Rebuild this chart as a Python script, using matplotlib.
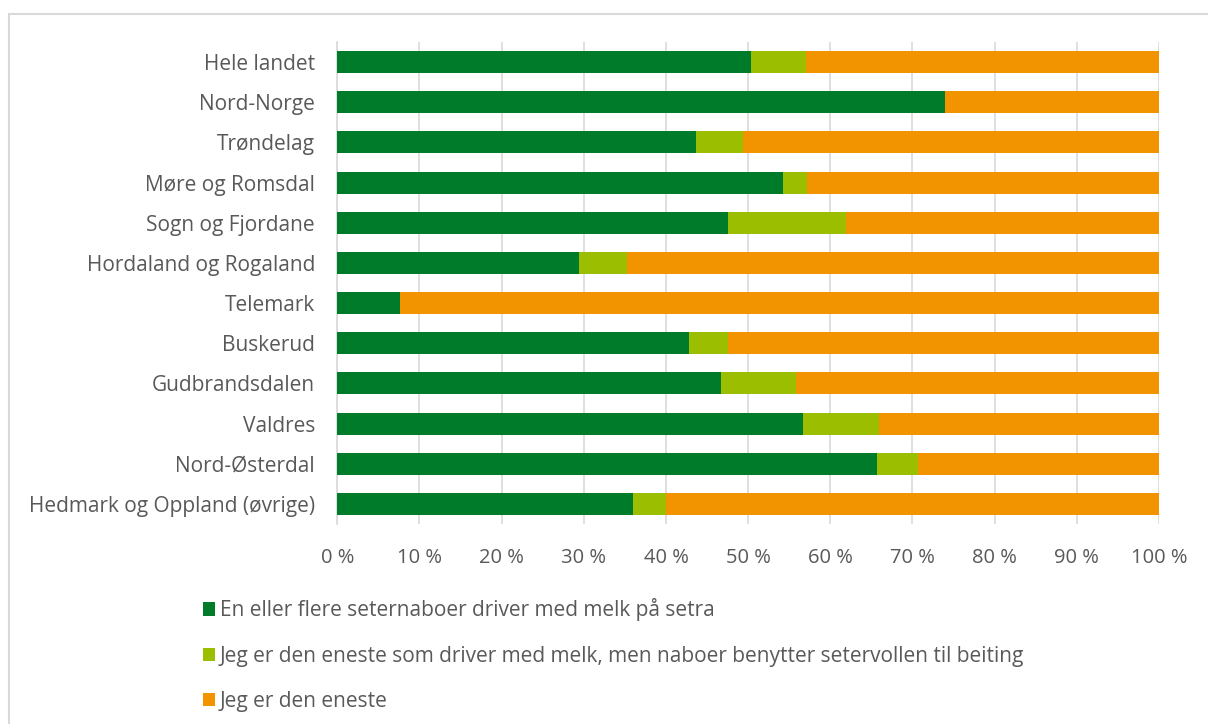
import matplotlib
matplotlib.use("Agg")
import matplotlib.pyplot as plt
from matplotlib.patches import Patch, Rectangle

plt.rcParams['font.family'] = ['Open Sans', 'DejaVu Sans']

# categories listed top to bottom
regions = ["Hele landet", "Nord-Norge", "Trøndelag", "Møre og Romsdal",
           "Sogn og Fjordane", "Hordaland og Rogaland", "Telemark", "Buskerud",
           "Gudbrandsdalen", "Valdres", "Nord-Østerdal", "Hedmark og Oppland (øvrige)"]

naboer_melk = [50.4, 74.0, 43.6, 54.3, 47.6, 29.4, 7.6, 42.8, 46.7, 56.7, 65.7, 36.0]
naboer_beite = [6.6, 0.0, 5.8, 2.9, 14.3, 5.8, 0.0, 4.8, 9.1, 9.2, 5.0, 4.0]
eneste = [43.0, 26.0, 50.6, 42.8, 38.1, 64.8, 92.4, 52.4, 44.2, 34.1, 29.3, 60.0]

series_names = ["En eller flere seternaboer driver med melk på setra",
                "Jeg er den eneste som driver med melk, men naboer benytter setervollen til beiting",
                "Jeg er den eneste"]
colors = ["#007B2A", "#9BBF00", "#F29400"]
xticks = list(range(0, 101, 10))
xtick_labels = [f"{t} %" for t in xticks]

fig = plt.figure(figsize=(12.08, 7.24), dpi=100)
ax = fig.add_axes([337.3 / 1208, 1 - 524 / 724, (1159 - 337.3) / 1208, (524 - 42) / 724])

y = list(range(len(regions)))
left = [0.0] * len(regions)
for vals, col in zip([naboer_melk, naboer_beite, eneste], colors):
    ax.barh(y, vals, left=left, height=0.55, color=col, zorder=3)
    left = [l + v for l, v in zip(left, vals)]

ax.set_xlim(0, 100)
ax.set_ylim(len(regions) - 0.5, -0.5)
ax.set_yticks(y)
ax.set_yticklabels(regions, fontsize=15, color="#595959")
ax.set_xticks(xticks)
ax.set_xticklabels(xtick_labels, fontsize=14.5, color="#595959")
ax.tick_params(axis="y", length=0, pad=16)
ax.tick_params(axis="x", length=0, pad=17)
ax.grid(axis="x", color="#D9D9D9", linewidth=1.2, zorder=0)
for s in ["top", "right", "bottom"]:
    ax.spines[s].set_visible(False)
ax.spines["left"].set_color("#D9D9D9")
ax.spines["left"].set_linewidth(1.2)

handles = [Patch(facecolor=c, edgecolor="none") for c in colors]
fig.legend(handles, series_names, loc="upper left", bbox_to_anchor=(193 / 1208, 1 - 588 / 724),
           frameon=False, fontsize=15, labelcolor="#595959", handlelength=0.55,
           handleheight=0.6, handletextpad=0.25, labelspacing=1.16, borderpad=0)

# chart border (only top/left visible in the crop)
fig.add_artist(Rectangle((8.5 / 1208, -0.1), 1.2, 1 - 13.5 / 724 + 0.1, transform=fig.transFigure,
                         fill=False, edgecolor="#D9D9D9", linewidth=1.5))

fig.savefig("out.png", dpi=100, facecolor="white")
